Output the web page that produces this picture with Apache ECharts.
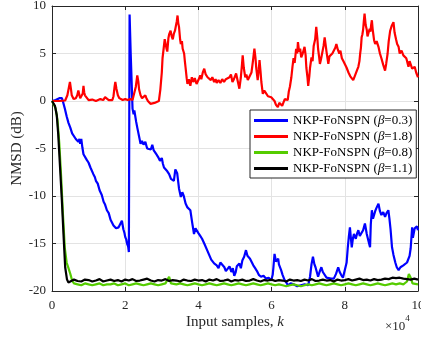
<!DOCTYPE html>
<html><head><meta charset="utf-8">
<script src="https://cdn.jsdelivr.net/npm/echarts@6/dist/echarts.min.js"></script>
<style>html,body{margin:0;padding:0;background:#fff}#c{width:421px;height:339px}</style>
</head><body><div id="c"></div>
<script>
var seriesNames = ['NKP-FoNSPN (β=0.3)','NKP-FoNSPN (β=1.8)','NKP-FoNSPN (β=0.8)','NKP-FoNSPN (β=1.1)'];
var xTicks = [0,2,4,6,8,10];
var yTicks = [-20,-15,-10,-5,0,5,10];
var blueData = [[0,0],[0.1,0.1],[0.2,0.3],[0.27,0.3],[0.31,-0.2],[0.35,-0.8],[0.4,-1.6],[0.45,-2.3],[0.5,-2.8],[0.55,-3.4],[0.6,-3.6],[0.65,-4.0],[0.68,-3.8],[0.72,-4.3],[0.75,-4.0],[0.77,-4.5],[0.8,-4.0],[0.83,-4.9],[0.86,-5.6],[0.9,-5.8],[0.95,-6.2],[1.0,-6.5],[1.05,-7.0],[1.09,-7.2],[1.13,-7.7],[1.17,-8.0],[1.2,-8.4],[1.25,-8.7],[1.3,-9.4],[1.33,-9.5],[1.36,-9.9],[1.41,-10.6],[1.45,-10.9],[1.5,-11.5],[1.55,-11.8],[1.6,-12.5],[1.64,-12.7],[1.68,-13.1],[1.72,-13.0],[1.75,-13.4],[1.78,-13.2],[1.82,-13.3],[1.87,-13.4],[1.91,-12.6],[1.95,-13.5],[1.98,-13.9],[2.0,-14.3],[2.03,-14.6],[2.05,-15.0],[2.08,-15.3],[2.1,-15.9],[2.12,9.1],[2.15,5.0],[2.2,-0.8],[2.23,-1.4],[2.25,-1.0],[2.27,-1.2],[2.3,-2.2],[2.33,-2.8],[2.38,-3.0],[2.42,-4.5],[2.46,-4.2],[2.5,-4.6],[2.55,-4.3],[2.6,-5.0],[2.65,-4.8],[2.7,-5.1],[2.74,-4.6],[2.78,-5.2],[2.82,-5.0],[2.85,-5.6],[2.9,-5.9],[2.95,-6.3],[3.0,-6.0],[3.03,-6.6],[3.06,-7.0],[3.1,-6.8],[3.15,-7.4],[3.2,-7.7],[3.25,-8.2],[3.29,-8.0],[3.33,-8.4],[3.37,-7.2],[3.42,-7.6],[3.47,-9.2],[3.52,-10.1],[3.56,-9.6],[3.6,-10.0],[3.65,-10.8],[3.70,-11.2],[3.74,-11.0],[3.78,-11.5],[3.83,-12.8],[3.88,-14.0],[3.92,-13.4],[3.95,-13.3],[4.0,-13.9],[4.05,-14.2],[4.1,-14.5],[4.13,-14.3],[4.16,-15.0],[4.2,-15.2],[4.25,-15.8],[4.3,-16.0],[4.35,-16.7],[4.39,-16.5],[4.43,-17.1],[4.5,-17.3],[4.55,-17.6],[4.6,-17.0],[4.65,-17.2],[4.71,-17.5],[4.75,-17.9],[4.8,-17.8],[4.85,-17.4],[4.9,-18.0],[4.94,-17.6],[4.98,-18.4],[5.02,-18.0],[5.05,-17.4],[5.12,-17.1],[5.16,-17.6],[5.2,-16.8],[5.25,-16.4],[5.3,-15.7],[5.34,-16.3],[5.37,-16.2],[5.41,-16.6],[5.44,-16.8],[5.5,-17.3],[5.55,-17.6],[5.6,-17.9],[5.65,-18.3],[5.71,-18.5],[5.78,-18.4],[5.85,-18.7],[5.92,-18.6],[5.99,-18.9],[6.03,-18.3],[6.05,-17.5],[6.08,-16.1],[6.12,-16.9],[6.15,-17.0],[6.18,-16.6],[6.2,-17.2],[6.26,-17.8],[6.3,-18.3],[6.35,-18.8],[6.4,-19.1],[6.45,-19.4],[6.52,-19.2],[6.6,-19.3],[6.7,-19.5],[6.8,-19.4],[6.9,-19.3],[7.0,-19.4],[7.05,-18.5],[7.09,-17.2],[7.13,-16.4],[7.17,-17.2],[7.2,-17.5],[7.27,-18.5],[7.31,-18.0],[7.36,-17.5],[7.4,-18.0],[7.45,-18.2],[7.5,-18.6],[7.55,-18.5],[7.62,-18.7],[7.7,-18.7],[7.76,-18.2],[7.82,-17.5],[7.86,-18.0],[7.9,-18.3],[7.95,-18.6],[8.0,-18.5],[8.05,-17.0],[8.08,-15.5],[8.11,-14.3],[8.14,-13.3],[8.17,-14.6],[8.19,-15.4],[8.22,-14.5],[8.25,-14.0],[8.3,-14.5],[8.34,-13.9],[8.37,-13.6],[8.41,-14.2],[8.45,-14.4],[8.5,-13.6],[8.55,-12.9],[8.6,-14.0],[8.65,-14.8],[8.69,-15.4],[8.71,-13.0],[8.74,-11.5],[8.77,-12.4],[8.8,-12.0],[8.83,-11.6],[8.86,-11.3],[8.92,-10.8],[8.96,-11.6],[9.0,-12.0],[9.05,-11.7],[9.10,-12.2],[9.14,-11.8],[9.19,-11.5],[9.22,-12.4],[9.25,-13.5],[9.29,-15.4],[9.33,-16.2],[9.38,-17.0],[9.42,-17.5],[9.47,-17.8],[9.52,-17.5],[9.56,-17.6],[9.6,-17.3],[9.65,-17.5],[9.7,-17.0],[9.74,-17.1],[9.77,-16.3],[9.8,-15.5],[9.84,-13.3],[9.86,-14.4],[9.88,-14.2],[9.91,-13.4],[9.93,-13.6],[9.97,-13.2],[10,-13.6]];
var redData = [[0,0],[0.2,0],[0.36,0.05],[0.42,0.6],[0.46,1.4],[0.49,2.0],[0.52,1.2],[0.54,0.6],[0.59,0.2],[0.65,0.3],[0.69,0.6],[0.72,1.1],[0.75,0.6],[0.77,0.3],[0.81,0.1],[0.84,0.8],[0.86,1.6],[0.88,0.9],[0.9,0.6],[0.92,0.8],[0.95,0.4],[1.0,0.1],[1.04,0.0],[1.1,0.15],[1.15,0.1],[1.2,0.0],[1.25,0.05],[1.32,0.2],[1.36,0.05],[1.4,0.1],[1.45,0.4],[1.5,0.3],[1.55,0.1],[1.6,0.2],[1.65,0.1],[1.68,0.5],[1.71,1.5],[1.73,2.0],[1.76,1.3],[1.8,0.6],[1.84,0.3],[1.87,0.2],[1.93,0.1],[2.0,0.2],[2.07,0.1],[2.14,0.2],[2.2,0.1],[2.25,0.3],[2.29,1.5],[2.33,2.7],[2.36,2.0],[2.38,1.2],[2.42,0.6],[2.46,0.3],[2.5,0.4],[2.55,0.6],[2.58,0.3],[2.62,0.0],[2.69,-0.3],[2.74,-0.4],[2.8,-0.2],[2.86,-0.1],[2.92,0.0],[2.96,1.2],[3.0,3.0],[3.02,4.5],[3.05,5.5],[3.08,6.5],[3.10,6.4],[3.13,5.5],[3.15,5.2],[3.18,6.6],[3.2,7.0],[3.24,7.4],[3.27,6.8],[3.3,6.5],[3.33,7.1],[3.36,7.4],[3.38,7.8],[3.41,8.4],[3.43,9.0],[3.45,8.2],[3.47,7.8],[3.5,6.5],[3.52,6.0],[3.55,6.3],[3.57,5.5],[3.61,5.0],[3.63,4.2],[3.65,3.5],[3.68,2.4],[3.70,1.8],[3.74,2.3],[3.78,1.6],[3.82,2.5],[3.86,2.0],[3.9,2.4],[3.95,1.8],[4.0,2.2],[4.05,2.7],[4.08,2.3],[4.12,3.0],[4.16,3.4],[4.2,2.8],[4.25,2.5],[4.3,2.7],[4.34,2.2],[4.38,2.5],[4.43,2.0],[4.47,2.3],[4.5,1.9],[4.55,2.2],[4.6,1.9],[4.65,2.3],[4.7,2.0],[4.75,2.3],[4.8,2.1],[4.85,2.5],[4.89,2.8],[4.93,2.0],[4.97,2.3],[5.03,2.9],[5.08,2.0],[5.12,1.3],[5.16,2.5],[5.19,3.8],[5.21,4.8],[5.24,3.5],[5.28,2.5],[5.31,2.8],[5.35,2.2],[5.4,2.6],[5.45,3.0],[5.49,4.2],[5.53,5.5],[5.56,4.5],[5.58,3.5],[5.62,2.2],[5.65,3.3],[5.67,4.3],[5.7,3.0],[5.72,2.0],[5.76,0.75],[5.8,1.1],[5.85,0.8],[5.9,0.5],[5.95,0.7],[5.99,0.4],[6.04,0.2],[6.08,0.0],[6.12,-0.4],[6.17,-0.65],[6.21,-0.2],[6.25,-0.3],[6.29,-0.5],[6.32,-0.2],[6.36,0.2],[6.40,0.4],[6.44,0.1],[6.47,1.0],[6.5,1.5],[6.54,2.5],[6.57,3.6],[6.6,4.5],[6.63,4.0],[6.67,5.5],[6.7,5.0],[6.72,6.2],[6.75,5.2],[6.78,5.5],[6.81,4.6],[6.85,5.0],[6.9,5.7],[6.93,4.8],[6.95,3.5],[6.98,2.5],[7.0,1.6],[7.03,2.6],[7.05,3.5],[7.09,4.6],[7.12,4.2],[7.15,5.8],[7.19,6.5],[7.22,7.8],[7.25,6.6],[7.27,5.5],[7.3,4.6],[7.32,3.9],[7.35,4.4],[7.38,5.0],[7.42,5.8],[7.45,6.7],[7.48,5.8],[7.5,5.2],[7.53,4.4],[7.55,3.9],[7.58,4.7],[7.62,4.5],[7.66,5.0],[7.7,5.2],[7.74,5.6],[7.77,6.0],[7.81,5.4],[7.85,5.0],[7.88,5.3],[7.92,4.5],[7.96,4.2],[8.0,3.9],[8.05,3.5],[8.1,3.0],[8.15,2.6],[8.2,2.7],[8.23,2.2],[8.27,2.6],[8.3,2.8],[8.34,3.3],[8.37,3.6],[8.4,4.2],[8.42,5.0],[8.44,5.6],[8.46,6.7],[8.48,7.0],[8.5,7.5],[8.52,8.4],[8.54,9.2],[8.57,8.0],[8.6,7.5],[8.62,6.8],[8.65,6.7],[8.68,7.6],[8.7,7.3],[8.72,8.0],[8.74,8.5],[8.76,7.6],[8.78,7.0],[8.8,6.4],[8.83,6.0],[8.87,6.3],[8.92,5.7],[8.96,5.0],[9.0,4.5],[9.05,3.8],[9.10,3.2],[9.13,3.9],[9.17,5.0],[9.2,6.3],[9.24,7.4],[9.28,7.9],[9.33,8.3],[9.36,7.2],[9.4,6.5],[9.43,6.0],[9.47,5.7],[9.5,5.0],[9.55,5.3],[9.6,4.8],[9.65,5.0],[9.68,4.5],[9.7,4.2],[9.72,3.9],[9.74,3.6],[9.77,4.2],[9.8,4.0],[9.84,3.4],[9.88,3.2],[9.91,3.6],[9.95,3.0],[9.98,2.8],[10,2.5]];
var greenData = [[0,0],[0.1,-0.8],[0.15,-2.0],[0.2,-4.5],[0.25,-8.0],[0.3,-12.0],[0.35,-15.5],[0.4,-17.0],[0.45,-17.6],[0.5,-18.2],[0.55,-18.9],[0.6,-19.2],[0.7,-19.3],[0.8,-19.4],[0.9,-19.2],[1.0,-19.3],[1.1,-19.4],[1.2,-19.3],[1.3,-19.2],[1.4,-19.4],[1.5,-19.3],[1.6,-19.3],[1.7,-19.2],[1.8,-19.4],[1.9,-19.3],[2.0,-19.2],[2.1,-19.4],[2.2,-19.3],[2.3,-19.2],[2.4,-19.3],[2.5,-19.4],[2.6,-19.3],[2.7,-19.2],[2.8,-19.3],[2.9,-19.4],[3.0,-19.3],[3.1,-19.2],[3.2,-18.5],[3.25,-19.2],[3.3,-19.4],[3.4,-19.3],[3.5,-19.2],[3.6,-19.3],[3.7,-19.4],[3.8,-19.3],[3.9,-19.2],[4.0,-19.3],[4.1,-19.4],[4.2,-19.3],[4.3,-19.2],[4.4,-19.3],[4.5,-19.4],[4.6,-19.3],[4.7,-19.2],[4.8,-19.3],[4.9,-19.4],[5.0,-19.3],[5.1,-19.2],[5.2,-19.3],[5.3,-19.4],[5.4,-19.3],[5.5,-19.2],[5.6,-19.3],[5.7,-19.4],[5.8,-19.3],[5.9,-19.2],[6.0,-19.3],[6.1,-19.4],[6.2,-19.3],[6.3,-19.4],[6.4,-19.5],[6.5,-19.4],[6.6,-19.3],[6.7,-19.4],[6.8,-19.5],[6.9,-19.4],[7.0,-19.3],[7.1,-19.4],[7.2,-19.3],[7.3,-19.2],[7.4,-19.3],[7.5,-19.4],[7.6,-19.3],[7.7,-19.2],[7.8,-19.3],[7.9,-19.4],[8.0,-19.3],[8.1,-19.2],[8.2,-19.3],[8.3,-19.4],[8.4,-19.3],[8.5,-19.2],[8.6,-19.3],[8.7,-19.4],[8.8,-19.3],[8.9,-19.2],[9.0,-19.3],[9.1,-19.4],[9.2,-19.3],[9.3,-19.2],[9.4,-19.3],[9.5,-19.2],[9.6,-19.3],[9.7,-19.0],[9.75,-18.2],[9.8,-18.6],[9.85,-19.2],[9.9,-19.3],[10,-19.3]];
var blackData = [[0,0],[0.08,-0.5],[0.13,-1.5],[0.17,-3.5],[0.22,-7.0],[0.27,-10.5],[0.32,-14.5],[0.36,-17.5],[0.41,-18.8],[0.45,-19.1],[0.5,-19.0],[0.6,-18.8],[0.7,-18.95],[0.8,-19.0],[0.9,-18.8],[1.0,-18.85],[1.1,-19.0],[1.2,-18.9],[1.3,-18.75],[1.4,-19.0],[1.5,-18.9],[1.6,-18.8],[1.7,-18.95],[1.8,-18.85],[1.9,-19.0],[2.0,-18.8],[2.1,-18.9],[2.2,-18.75],[2.3,-18.95],[2.4,-18.9],[2.5,-18.8],[2.6,-18.7],[2.7,-18.9],[2.8,-19.0],[2.9,-18.85],[3.0,-18.9],[3.1,-18.75],[3.2,-18.95],[3.3,-18.85],[3.4,-18.9],[3.5,-19.0],[3.6,-18.8],[3.7,-18.9],[3.8,-18.95],[3.9,-18.8],[4.0,-18.9],[4.1,-18.85],[4.2,-19.0],[4.3,-18.8],[4.4,-18.9],[4.5,-18.75],[4.6,-18.95],[4.7,-18.9],[4.8,-18.8],[4.9,-19.0],[5.0,-18.85],[5.1,-18.9],[5.2,-18.8],[5.3,-18.95],[5.4,-18.9],[5.5,-18.75],[5.6,-18.9],[5.7,-19.0],[5.8,-18.85],[5.9,-18.9],[6.0,-18.8],[6.1,-18.95],[6.2,-18.85],[6.3,-18.9],[6.4,-19.0],[6.5,-18.8],[6.6,-18.9],[6.7,-18.85],[6.8,-18.95],[6.9,-18.8],[7.0,-18.9],[7.1,-18.75],[7.2,-18.95],[7.3,-18.9],[7.4,-18.8],[7.5,-18.9],[7.6,-18.85],[7.7,-19.0],[7.8,-18.8],[7.9,-18.9],[8.0,-18.85],[8.1,-18.75],[8.2,-18.9],[8.3,-18.8],[8.4,-18.7],[8.5,-18.85],[8.6,-18.8],[8.7,-18.9],[8.8,-18.75],[8.9,-18.85],[9.0,-18.8],[9.1,-18.7],[9.2,-18.75],[9.3,-18.6],[9.4,-18.65],[9.5,-18.6],[9.6,-18.7],[9.7,-18.75],[9.8,-18.8],[9.9,-18.7],[10,-18.8]];
var colors = ['#0000ff','#ff0000','#55cc00','#000000'];

var chart = echarts.init(document.getElementById('c'));
var FONT = 'Liberation Serif';
var axisCol = '#262626';
function mkSeries(i, data){
  return {name: seriesNames[i], type:'line', data:data, showSymbol:false, symbol:'none',
    lineStyle:{color:colors[i], width:2.2}, itemStyle:{color:colors[i]}, animation:false, z: 2+i};
}
chart.setOption({
  animation:false,
  textStyle:{fontFamily:FONT},
  grid:{left:52, right:3, top:6, bottom:48, show:false, containLabel:false, outerBoundsMode:'none'},
  xAxis:[{type:'value', min:0, max:10, interval:2, position:'bottom',
    axisLine:{show:true, onZero:false, lineStyle:{color:axisCol}},
    axisTick:{inside:true, length:4, lineStyle:{color:axisCol}},
    axisLabel:{color:axisCol, fontFamily:FONT, fontSize:13, margin:8},
    splitLine:{show:true, lineStyle:{color:'#e3e3e3'}},
    name:'{a|Input samples, }{b|k}', nameLocation:'middle', nameGap:24, nameMoveOverlap:false,
    nameTextStyle:{rich:{a:{fontFamily:FONT, fontSize:15, color:axisCol}, b:{fontFamily:FONT, fontSize:15, fontStyle:'italic', color:axisCol}}}},
   {type:'value', min:0, max:10, interval:2, position:'top',
    axisLine:{show:true, onZero:false, lineStyle:{color:axisCol}},
    axisTick:{inside:true, length:4, lineStyle:{color:axisCol}},
    axisLabel:{show:false}, splitLine:{show:false}}],
  yAxis:[{type:'value', min:-20, max:10, interval:5, position:'left',
    axisLine:{show:true, onZero:false, lineStyle:{color:axisCol}},
    axisTick:{inside:true, length:4, lineStyle:{color:axisCol}},
    axisLabel:{color:axisCol, fontFamily:FONT, fontSize:13, margin:6},
    splitLine:{show:true, lineStyle:{color:'#e3e3e3'}},
    name:'NMSD (dB)', nameLocation:'middle', nameGap:27, nameMoveOverlap:false,
    nameTextStyle:{fontFamily:FONT, fontSize:15, color:axisCol}},
   {type:'value', min:-20, max:10, interval:5, position:'right',
    axisLine:{show:true, onZero:false, lineStyle:{color:axisCol}},
    axisTick:{inside:true, length:4, lineStyle:{color:axisCol}},
    axisLabel:{show:false}, splitLine:{show:false}}],
  legend:{orient:'vertical', left:250, top:110, width:167,
    backgroundColor:'#fff', borderColor:'#262626', borderWidth:1, borderRadius:0,
    padding:[4,4,3,4], itemGap:3, itemWidth:34, itemHeight:3, icon:'rect',
    data:seriesNames,
    formatter:function(n){var p=n.split('β'); return '{a|'+p[0]+'}{b|β}{a|'+p[1]+'}';},
    textStyle:{rich:{a:{fontFamily:FONT, fontSize:13, color:'#000'}, b:{fontFamily:FONT, fontSize:13, fontStyle:'italic', color:'#000'}}}},
  graphic:[{type:'text', left:385, top:314, style:{text:'{a|×10}{s|4}', rich:{a:{fontFamily:FONT, fontSize:13, fill:axisCol, padding:[6,0,0,0]}, s:{fontFamily:FONT, fontSize:9, fill:axisCol, verticalAlign:'top', padding:[0,0,6,0]}}}}],
  series:[mkSeries(0, blueData), mkSeries(1, redData), mkSeries(2, greenData), mkSeries(3, blackData)]
});
</script></body></html>
